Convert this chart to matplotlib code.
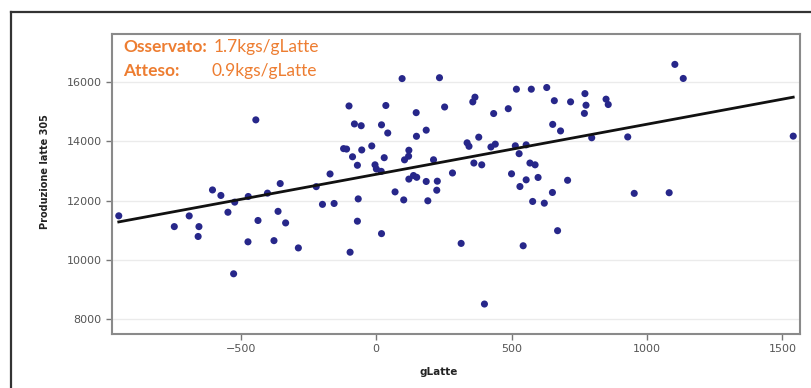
import matplotlib
matplotlib.use("Agg")
import matplotlib.pyplot as plt
from matplotlib.lines import Line2D

# ---- data ----
g_latte = [-950, -745, -690, -654, -657, -604, -573, -547, -522, -526, -472, -473, -444, -436,
           -401, -377, -362, -354, -334, -287, -221, -170, -198, -155, -120, -109, -100, -87,
           -80, -55, -69, -66, -69, -96, -53, -16, -4, 1, 20, 30, 19, 20, 36, 43, 96, 70, 102,
           105, 121, 120, 121, 138, 150, 149, 148, 185, 185, 191, 212, 226, 224, 234, 253, 282,
           314, 336, 343, 357, 365, 361, 379, 390, 400, 424, 434, 440, 488, 500, 518, 514, 528,
           531, 543, 554, 554, 573, 568, 587, 578, 598, 621, 630, 658, 652, 651, 670, 681, 707,
           718, 771, 775, 769, 796, 849, 857, 929, 953, 1082, 1103, 1134, 1540]
produzione = [11485, 11122, 11482, 11122, 10790, 12355, 12170, 11605, 11945, 9535, 12135, 10610,
              14712, 11328, 12248, 10650, 11635, 12570, 11246, 10405, 12466, 12893, 11870, 11900,
              13745, 13730, 15180, 13470, 14575, 14515, 13185, 12054, 11304, 10261, 13700, 13835,
              13200, 13060, 14545, 13440, 12980, 10886, 15195, 14270, 16100, 12290, 12020, 13368,
              13690, 13490, 12720, 12840, 12780, 14160, 14955, 12640, 14366, 11990, 13370, 12650,
              12346, 16130, 15145, 12926, 10557, 13940, 13823, 15317, 15475, 13260, 14130, 13200,
              8518, 13800, 14925, 13895, 15088, 12898, 15744, 13840, 13575, 12470, 10478, 13872,
              12695, 15744, 13260, 13200, 11968, 12775, 11910, 15800, 15357, 14560, 12270, 10985,
              14340, 12680, 15318, 15595, 15205, 14930, 14110, 15408, 15228, 14138, 12240, 12262,
              16578, 16105, 14165]
fit_x = [-950, 1540]
fit_y = [11280, 15475]
y_ticks = [8000, 10000, 12000, 14000, 16000]
x_ticks = [-500, 0, 500, 1000, 1500]
obs_label, obs_value = "Osservato:", "1.7kgs/gLatte"
exp_label, exp_value = "Atteso:", "0.9kgs/gLatte"

W, H = 812, 388
fig = plt.figure(figsize=(W / 100, H / 100), dpi=100)
fig.patch.set_facecolor("white")

# outer document frame
fig.add_artist(Line2D([11 / W, 11 / W], [0, 1 - 12 / H], transform=fig.transFigure,
                      color="#333333", lw=1.6))
fig.add_artist(Line2D([11 / W, 1], [1 - 12 / H, 1 - 12 / H], transform=fig.transFigure,
                      color="#333333", lw=1.6))

ax = fig.add_axes([112 / W, (H - 334) / H, (800 - 112) / W, (334 - 34) / H])
ax.set_xlim(-975, 1565)
ax.set_ylim(7510, 17600)

ax.grid(axis="y", color="#ebebeb", lw=1.0)
ax.set_axisbelow(True)

ax.scatter(g_latte, produzione, s=26, color="#27278a", edgecolors="none", zorder=3)
ax.plot(fit_x, fit_y, color="#111111", lw=2.0, zorder=4)

ax.set_xticks(x_ticks)
ax.set_yticks(y_ticks)
ax.set_xticklabels([("\u2212" + str(-v)) if v < 0 else str(v) for v in x_ticks])
ax.tick_params(axis="both", colors="#777777", labelcolor="#555555", labelsize=8,
               length=4, width=1)
for s in ax.spines.values():
    s.set_color("#8a8a8a")
    s.set_linewidth(1.5)

ax.set_ylabel("Produzione latte 305", fontsize=7, fontweight="bold", color="#222222")
ax.yaxis.set_label_coords(-0.09, 0.54)
ax.set_xlabel("gLatte", fontsize=7.5, fontweight="bold", color="#222222")
ax.xaxis.set_label_coords(0.475, -0.11)

orange = "#ED7D31"
fs = 12.5
fig.text(123 / W, 1 - 47 / H, obs_label, color=orange, fontsize=fs, fontweight="bold",
         family="Lato", va="center", ha="left")
fig.text(214 / W, 1 - 47 / H, obs_value, color=orange, fontsize=fs,
         family="Lato", va="center", ha="left")
fig.text(123 / W, 1 - 71 / H, exp_label, color=orange, fontsize=fs, fontweight="bold",
         family="Lato", va="center", ha="left")
fig.text(212 / W, 1 - 71 / H, exp_value, color=orange, fontsize=fs,
         family="Lato", va="center", ha="left")

fig.savefig("out.png", dpi=100)
